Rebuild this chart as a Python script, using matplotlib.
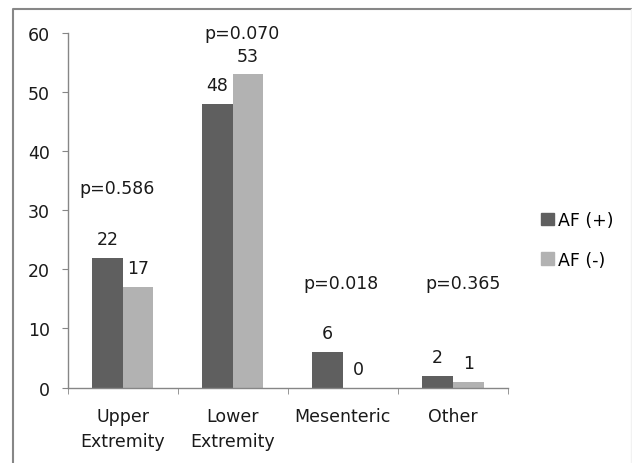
import matplotlib
matplotlib.use("Agg")
import matplotlib.pyplot as plt
from matplotlib.lines import Line2D
from matplotlib.patches import Patch
import numpy as np

# data
categories = ["Upper\nExtremity", "Lower\nExtremity", "Mesenteric", "Other"]
af_pos = [22, 48, 6, 2]
af_neg = [17, 53, 0, 1]
series_names = ["AF (+)", "AF (-)"]
p_values = ["p=0.586", "p=0.070", "p=0.018", "p=0.365"]
p_x_shift = [-0.05, 0.08, -0.02, 0.09]
p_y = [33, 59.2, 16.9, 16.9]

dark = "#5f5f5f"
light = "#b2b2b2"
axis_gray = "#868686"
fs = 12.5

plt.rcParams["font.family"] = ["DejaVu Sans"]

fig = plt.figure(figsize=(6.32, 4.64), dpi=100)
ax = fig.add_axes([0.1071, 0.1627, 0.6967, 0.764])

x = np.arange(len(categories))
w = 0.278
b1 = ax.bar(x - w / 2, af_pos, w, color=dark, label=series_names[0])
b2 = ax.bar(x + w / 2, af_neg, w, color=light, label=series_names[1])

# value labels above bars
for bars, vals in ((b1, af_pos), (b2, af_neg)):
    for r, v in zip(bars, vals):
        ax.annotate(str(v), (r.get_x() + r.get_width() / 2, v),
                    xytext=(0, 7), textcoords="offset points",
                    ha="center", va="bottom", fontsize=fs, color="#1a1a1a")

# p-value annotations
for xi, dx, yy, txt in zip(x, p_x_shift, p_y, p_values):
    ax.text(xi + dx, yy, txt, ha="center", va="baseline", fontsize=fs,
            color="#1a1a1a", clip_on=False)

ax.set_xlim(-0.5, len(categories) - 0.5)
ax.set_ylim(0, 60)
ax.set_yticks(range(0, 61, 10))
ax.set_xticks(x)
ax.set_xticklabels(categories, linespacing=1.5)
ax.set_xticks(np.arange(-0.5, len(categories), 1.0), minor=True)

for s in ("top", "right"):
    ax.spines[s].set_visible(False)
for s in ("left", "bottom"):
    ax.spines[s].set_color(axis_gray)
    ax.spines[s].set_linewidth(1.0)

ax.tick_params(axis="y", length=4, color=axis_gray, pad=9, labelsize=fs,
               labelcolor="#1a1a1a")
ax.tick_params(axis="x", which="major", length=0, pad=14, labelsize=fs,
               labelcolor="#1a1a1a")
ax.tick_params(axis="x", which="minor", length=4.5, color=axis_gray)

handles = [Patch(color=dark), Patch(color=light)]
fig.legend(handles, series_names, loc="upper left",
           bbox_to_anchor=(541 / 632, 1 - 212 / 464), frameon=False,
           fontsize=fs, handlelength=0.75, handleheight=0.75,
           handletextpad=0.25, labelspacing=1.25, borderpad=0,
           borderaxespad=0)

# outer frame of the chart area
fx = 12.5 / 632
fy = 1 - 9.5 / 464
fig.add_artist(Line2D([fx, fx, 1], [0, fy, fy], color="#878787",
                      linewidth=1.5, transform=fig.transFigure))
fig.add_artist(Line2D([630.5 / 632] * 2, [0, fy], color="#f2f2f2",
                      linewidth=1.0, transform=fig.transFigure))

fig.savefig("out.png", dpi=100)
